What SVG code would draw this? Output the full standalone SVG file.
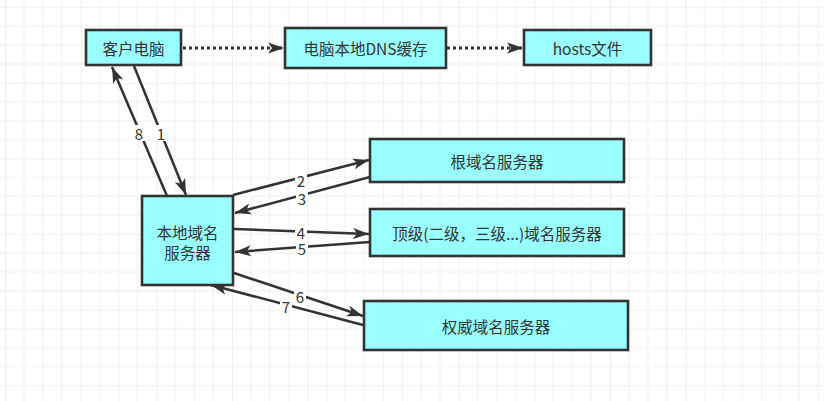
<svg xmlns="http://www.w3.org/2000/svg" width="824" height="401" viewBox="0 0 824 401">
<defs>
<pattern id="grid" patternUnits="userSpaceOnUse" x="5.2" y="7.3" width="75.6" height="75.6">
<path d="M18.9,0V75.6M37.8,0V75.6M56.7,0V75.6M0,18.9H75.6M0,37.8H75.6M0,56.7H75.6" stroke="#f0f0f0" stroke-width="1" fill="none"/>
<path d="M0,0V75.6M0,0H75.6" stroke="#e4e4e4" stroke-width="1.2" fill="none"/>
</pattern>
<marker id="arr" markerUnits="userSpaceOnUse" markerWidth="18" markerHeight="12" refX="16" refY="5.5" orient="auto" overflow="visible">
<path d="M0,0 L16,5.5 L0,11 L4,5.5 z" fill="#333"/>
</marker>
<style>
.node rect{fill:#99ffff;stroke:#333;stroke-width:2.6}
.node text,.lbl text{font-family:"Noto Sans CJK SC","Noto Sans",sans-serif;fill:#333;text-anchor:middle;dominant-baseline:central}
.node text{font-size:15.5px}
.lbl text{font-size:15px}
.lbl rect{fill:#fff}
.c{stroke:#333;stroke-width:2.5;fill:none;marker-end:url(#arr)}
.d{stroke-dasharray:3 3;stroke-width:3}
</style>
</defs>
<rect width="824" height="401" fill="#fff"/>
<rect width="824" height="401" fill="url(#grid)"/>
<g id="connectors">
<line class="c d" x1="183" y1="48" x2="284" y2="48"/>
<line class="c d" x1="447" y1="48" x2="523" y2="48"/>
<line class="c" x1="134" y1="66" x2="186" y2="195"/>
<line class="c" x1="167" y1="196" x2="112" y2="67"/>
<line class="c" x1="233" y1="195" x2="369" y2="160"/>
<line class="c" x1="370" y1="177" x2="235" y2="213"/>
<line class="c" x1="234" y1="229" x2="369" y2="234"/>
<line class="c" x1="370" y1="242" x2="235" y2="252"/>
<line class="c" x1="234" y1="273" x2="363" y2="316"/>
<line class="c" x1="363" y1="325" x2="211" y2="285"/>
<g class="lbl">
<rect x="133" y="125" width="12" height="16"/><text x="139" y="133">8</text>
<rect x="155" y="125" width="12" height="16"/><text x="161" y="133">1</text>
<rect x="295" y="173" width="12" height="14"/><text x="301" y="180">2</text>
<rect x="296" y="191" width="12" height="14"/><text x="302" y="198">3</text>
<rect x="295" y="225" width="12" height="14"/><text x="301" y="232">4</text>
<rect x="296" y="241" width="12" height="14"/><text x="302" y="248">5</text>
<rect x="294" y="289" width="12" height="14"/><text x="300" y="296">6</text>
<rect x="280" y="299" width="12" height="14"/><text x="286" y="306">7</text>
</g>
</g>
<g id="client" class="node"><rect x="86" y="30" width="95" height="35"/><text x="133.5" y="48">客户电脑</text></g>
<g id="localcache" class="node"><rect x="285" y="28" width="161" height="40"/><text x="365.5" y="48">电脑本地DNS缓存</text></g>
<g id="hosts" class="node"><rect x="524" y="30" width="127" height="35"/><text x="587.5" y="48">hosts文件</text></g>
<g id="localdns" class="node"><rect x="142" y="196" width="91" height="89"/><text x="187.5" y="232">本地域名</text><text x="187.5" y="252">服务器</text></g>
<g id="root" class="node"><rect x="370" y="139" width="254" height="43"/><text x="497" y="160.5">根域名服务器</text></g>
<g id="tld" class="node"><rect x="370" y="209" width="254" height="47"/><text x="497" y="232.5">顶级(二级，三级...)域名服务器</text></g>
<g id="auth" class="node"><rect x="364" y="301" width="264" height="49"/><text x="496" y="325.5">权威域名服务器</text></g>
</svg>
